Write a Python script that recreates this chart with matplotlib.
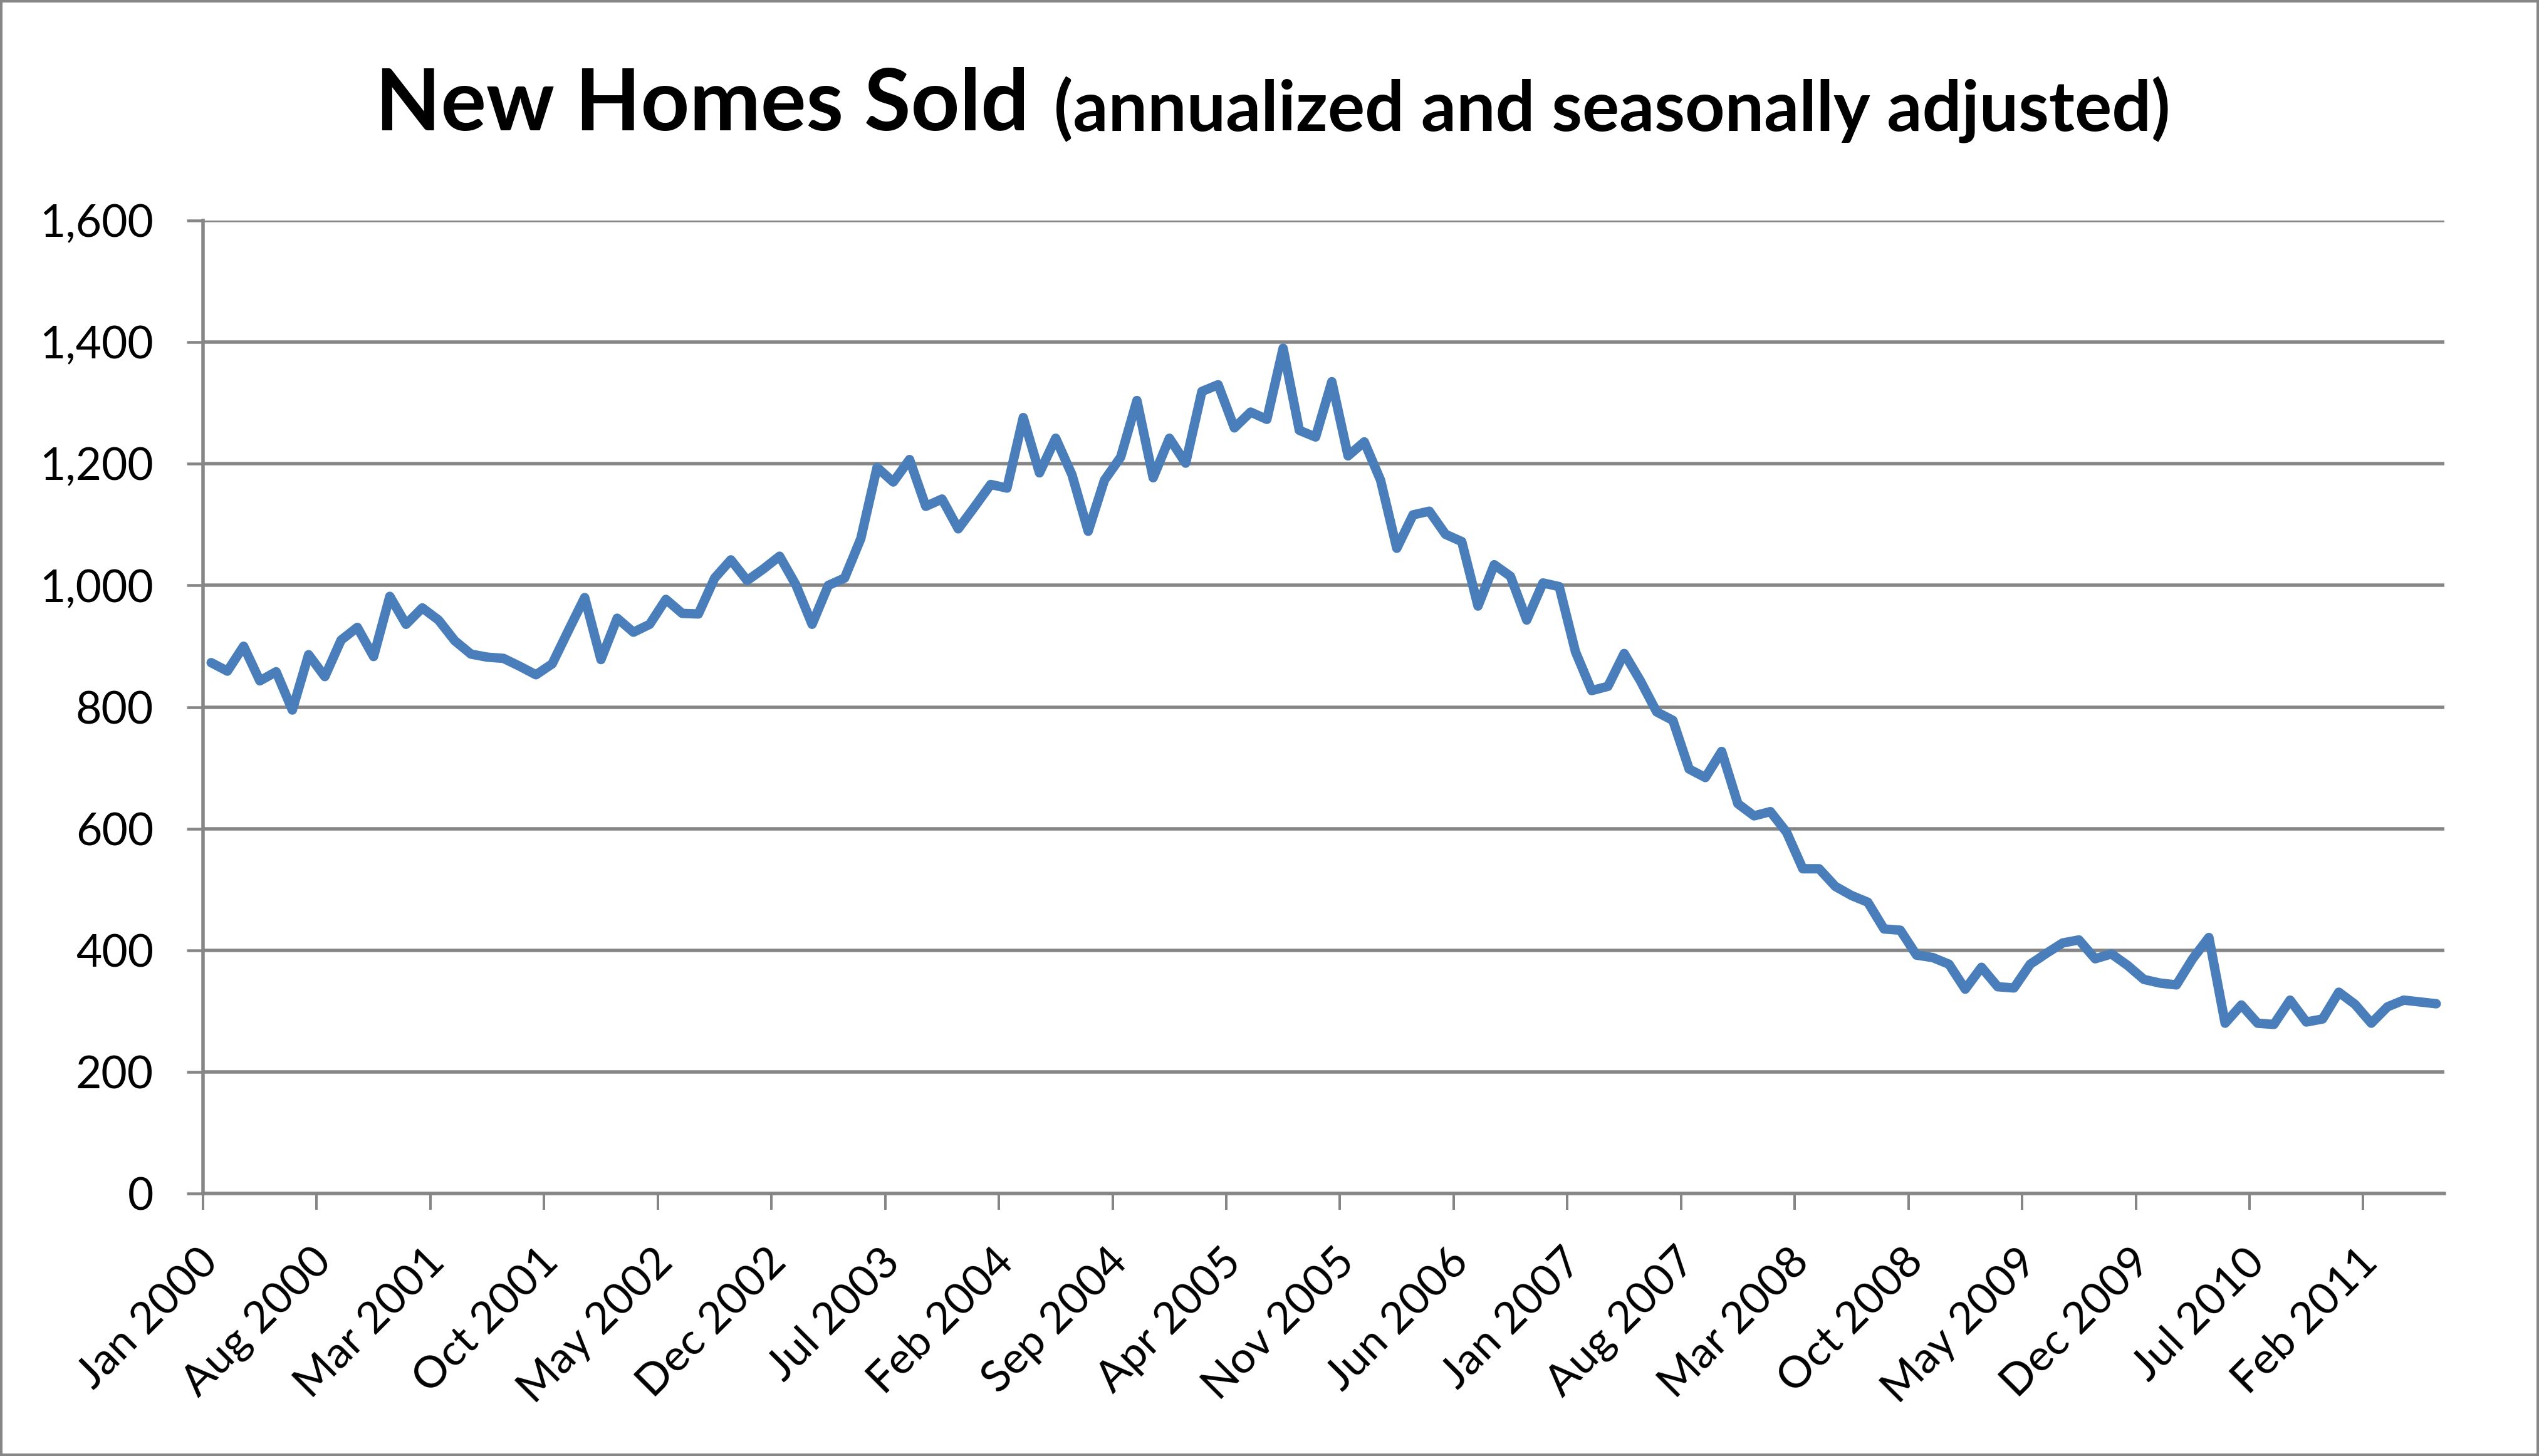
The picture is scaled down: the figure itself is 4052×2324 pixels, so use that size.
import matplotlib
matplotlib.use("Agg")
import matplotlib.pyplot as plt
import matplotlib.transforms as mtransforms
from matplotlib.patches import Rectangle
from matplotlib.ticker import FuncFormatter

# ---------------- data ----------------
sales_2000 = [873, 859, 900, 843, 858, 795, 886, 850, 910, 931, 883, 982]
sales_2001 = [936, 963, 943, 909, 887, 882, 880, 867, 853, 871, 926, 980]
sales_2002 = [878, 946, 923, 936, 977, 954, 953, 1012, 1042, 1008, 1027, 1048]
sales_2003 = [1001, 936, 1000, 1012, 1077, 1194, 1170, 1207, 1130, 1142, 1093, 1129]
sales_2004 = [1166, 1160, 1276, 1185, 1242, 1182, 1089, 1173, 1211, 1304, 1177, 1242]
sales_2005 = [1201, 1319, 1330, 1259, 1285, 1273, 1390, 1255, 1244, 1335, 1213, 1236]
sales_2006 = [1173, 1061, 1116, 1122, 1084, 1072, 966, 1034, 1015, 943, 1004, 998]
sales_2007 = [891, 827, 834, 888, 843, 792, 778, 698, 684, 727, 641, 621]
sales_2008 = [628, 594, 534, 534, 505, 490, 479, 435, 433, 392, 388, 377]
sales_2009 = [336, 372, 340, 338, 377, 395, 412, 417, 386, 394, 375, 352]
sales_2010 = [346, 343, 386, 421, 280, 310, 280, 278, 318, 282, 287, 331]
sales_2011 = [311, 280, 307, 318, 315, 312]

tick_labels = ["Jan 2000", "Aug 2000", "Mar 2001", "Oct 2001", "May 2002",
               "Dec 2002", "Jul 2003", "Feb 2004", "Sep 2004", "Apr 2005",
               "Nov 2005", "Jun 2006", "Jan 2007", "Aug 2007", "Mar 2008",
               "Oct 2008", "May 2009", "Dec 2009", "Jul 2010", "Feb 2011"]
label_step = 7  # months between labelled categories
y_ticks = [0, 200, 400, 600, 800, 1000, 1200, 1400, 1600]

title_main = "New Homes Sold"
title_sub = "(annualized and seasonally adjusted)"

values = (sales_2000 + sales_2001 + sales_2002 + sales_2003 + sales_2004 +
          sales_2005 + sales_2006 + sales_2007 + sales_2008 + sales_2009 +
          sales_2010 + sales_2011)
n = len(values)
xs = list(range(n))

# ---------------- style ----------------
W, H = 4052, 2324
DPI = 100
plt.rcParams['font.family'] = ['Lato', 'DejaVu Sans']
GRAY = '#868686'
BLUE = '#4A7EBB'
px = 72.0 / DPI  # points per pixel

fig = plt.figure(figsize=(W / DPI, H / DPI), dpi=DPI)
fig.patch.set_facecolor('white')

left, right, top, bottom = 324, 3901, 352, 1905
ax = fig.add_axes([left / W, 1 - bottom / H, (right - left) / W, (bottom - top) / H])

ax.plot(xs, values, color=BLUE, lw=15 * px, solid_joinstyle='round',
        solid_capstyle='round', zorder=3, clip_on=False)

ax.set_xlim(-0.5, n - 0.5)
ax.set_ylim(0, 1600)
ax.set_yticks(y_ticks)
ax.yaxis.set_major_formatter(FuncFormatter(lambda v, p: f"{int(v):,}"))
ax.grid(axis='y', color=GRAY, lw=5.5 * px, zorder=1)
ax.set_axisbelow(True)
for s in ['top', 'right']:
    ax.spines[s].set_visible(False)
for s in ['left', 'bottom']:
    ax.spines[s].set_color(GRAY)
    ax.spines[s].set_linewidth(5.5 * px)
    ax.spines[s].set_zorder(2)

# tick marks at category boundaries, labels centred on the category
label_cats = [k * label_step for k in range(len(tick_labels))]
tick_pos = [c - 0.5 for c in label_cats]
ax.set_xticks(tick_pos)
ax.tick_params(axis='x', direction='out', length=26 * px, width=4 * px,
               color=GRAY, labelbottom=False)

r = fig.canvas.get_renderer()
# fit y tick font size to "1,600" width ~182 px
probe = fig.text(0, 0, "1,600", fontsize=50)
ytick_fs = 50 * 182.0 / probe.get_window_extent(r).width
probe.remove()
# fit x label font so "Jan 2000" is ~285 px long
probe = fig.text(0, 0, "Jan 2000", fontsize=50)
xtick_fs = 50 * 285.0 / probe.get_window_extent(r).width
probe.remove()

ax.tick_params(axis='y', direction='out', length=26 * px, width=4.5 * px,
               color=GRAY, pad=53 * px, labelsize=ytick_fs, labelcolor='black')

lab_trans = ax.get_xaxis_transform() + mtransforms.ScaledTranslation(
    0, -99 / DPI, fig.dpi_scale_trans)
for c, txt in zip(label_cats, tick_labels):
    ax.text(c, 0, txt, transform=lab_trans, rotation=45, ha='right',
            va='center', rotation_mode='anchor', fontsize=xtick_fs,
            color='black', clip_on=False)

# ---------------- title ----------------
base_y = 1 - 208 / H
t1 = fig.text(599 / W, base_y, title_main, fontsize=90, fontweight='bold',
              ha='left', va='baseline')
t2 = fig.text(1682 / W, base_y, title_sub, fontsize=70, fontweight='bold',
              ha='left', va='baseline')
w1 = t1.get_window_extent(r).width
t1.set_fontsize(90 * 1044.0 / w1)
w2 = t2.get_window_extent(r).width
t2.set_fontsize(70 * 1782.0 / w2)

# ---------------- outer border ----------------
fig.patches.append(Rectangle((2 / W, 2 / H), 1 - 4 / W, 1 - 4 / H,
                             transform=fig.transFigure, fill=False,
                             edgecolor=GRAY, lw=4 * px))

fig.savefig('out.png', dpi=DPI, facecolor='white')
